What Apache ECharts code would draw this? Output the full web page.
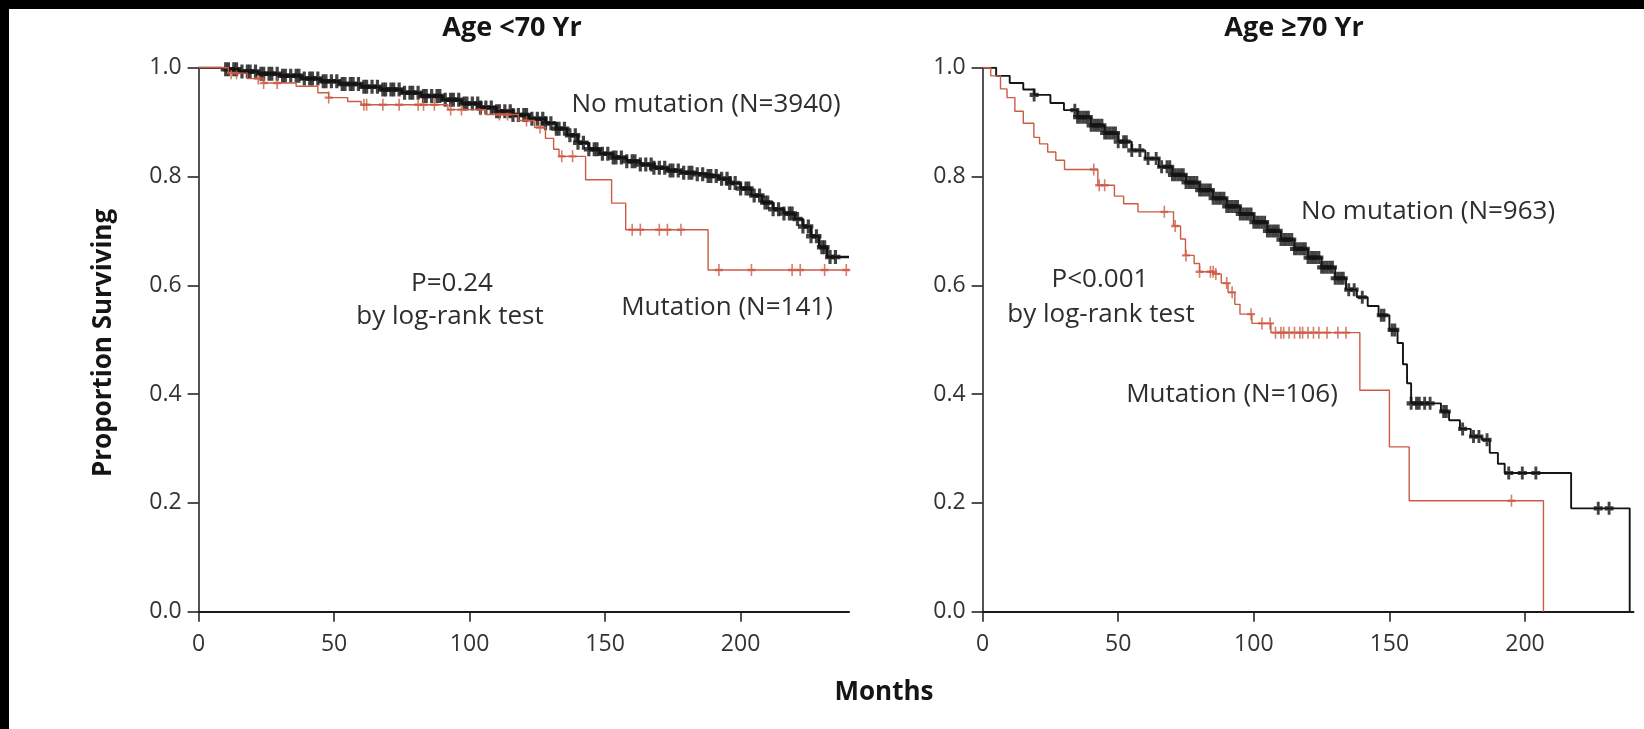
<!DOCTYPE html>
<html>
<head>
<meta charset="utf-8">
<title>Survival by mutation status</title>
<script src="https://cdn.jsdelivr.net/npm/echarts@6/dist/echarts.min.js"></script>
<style>
    html, body {
        margin: 0;
        padding: 0;
        background: #000;
    }

    #main {
        position: absolute;
        left: 9px;
        top: 9px;
        width: 1635px;
        height: 720px;
        background: #fff;
    }
</style>
</head>
<body>
<div id="main"></div>
<script>
    // ---- data (months, proportion surviving) ----
    var xTicks = [0, 50, 100, 150, 200];

    // Age <70 Yr, no mutation (N=3940)
    var youngNoMutTime = [0, 8, 15, 22, 30, 38, 45, 52, 60, 67, 75, 82, 90, 97, 104, 110, 116, 122, 128, 132, 136, 140, 144, 148, 153, 158, 163, 168, 173, 178, 183, 188, 192, 196, 200, 204, 208, 212, 216, 220, 223, 226, 229, 232, 240];
    var youngNoMutSurv = [1.0, 0.997, 0.993, 0.989, 0.985, 0.980, 0.975, 0.970, 0.965, 0.960, 0.954, 0.948, 0.941, 0.934, 0.927, 0.920, 0.913, 0.906, 0.898, 0.888, 0.876, 0.862, 0.850, 0.842, 0.835, 0.828, 0.822, 0.816, 0.811, 0.807, 0.804, 0.801, 0.796, 0.788, 0.778, 0.765, 0.752, 0.740, 0.732, 0.722, 0.708, 0.690, 0.670, 0.652, 0.652];
    var youngNoMutCensor = [10, 11, 13, 14, 16, 18, 19, 21, 23, 24, 26, 27, 29, 31, 32, 34, 36, 37, 39, 41, 42, 44, 46, 47, 49, 51, 53, 54, 56, 57, 59, 61, 62, 64, 66, 68, 69, 71, 72, 74, 76, 78, 79, 81, 83, 84, 86, 88, 89, 91, 93, 94, 96, 98, 99, 101, 103, 104, 106, 108, 110, 111, 113, 115, 116, 118, 120, 121, 123, 125, 127, 128, 130, 132, 133, 135, 137, 139, 140, 142, 144, 146, 147, 149, 151, 153, 154, 156, 158, 160, 161, 163, 165, 167, 168, 170, 172, 174, 175, 177, 179, 181, 182, 184, 186, 188, 189, 191, 193, 195, 196, 198, 200, 202, 203, 205, 207, 209, 210, 212, 214, 216, 218, 219, 221, 223, 225, 226, 228, 230, 231, 233, 235];

    // Age <70 Yr, mutation (N=141)
    var youngMutTime = [0, 11, 18, 24, 36, 44, 48, 55, 60, 92, 106, 118, 124, 128, 131, 133, 142.8, 152.4, 157.6, 188, 240];
    var youngMutSurv = [1.0, 0.990, 0.980, 0.972, 0.966, 0.954, 0.945, 0.938, 0.932, 0.923, 0.914, 0.903, 0.890, 0.870, 0.850, 0.837, 0.794, 0.751, 0.702, 0.628, 0.628];
    var youngMutCensor = [12, 14, 22, 24, 29, 48, 61, 62, 68, 74, 81, 83, 87, 93, 97, 104, 111, 114, 121, 126, 134, 138, 160, 163, 170, 173, 178, 192, 204, 219, 222, 231, 239];

    // Age >=70 Yr, no mutation (N=963)
    var oldNoMutTime = [0, 5, 10, 15, 19, 25, 30, 35, 40, 45, 50, 55, 60, 65, 70, 75, 80, 85, 90, 95, 100, 105, 110, 115, 120, 125, 130, 134, 138, 142, 146, 150, 153, 155, 156.5, 158, 169, 172, 176, 180, 184, 187, 190, 192.5, 217, 238.6];
    var oldNoMutSurv = [1.0, 0.985, 0.972, 0.960, 0.950, 0.935, 0.922, 0.909, 0.894, 0.880, 0.864, 0.848, 0.833, 0.818, 0.803, 0.789, 0.775, 0.760, 0.745, 0.731, 0.716, 0.700, 0.684, 0.667, 0.651, 0.633, 0.613, 0.592, 0.578, 0.562, 0.545, 0.518, 0.494, 0.455, 0.420, 0.383, 0.368, 0.352, 0.336, 0.322, 0.316, 0.292, 0.272, 0.255, 0.190, 0.0];
    var oldNoMutCensor = [19, 34, 35, 36, 37, 38, 39, 40, 41, 42, 43, 44, 45, 46, 47, 48, 49, 50, 52, 53, 55, 58, 61, 64, 66, 68, 69, 70, 71, 72, 73, 74, 75, 76, 77, 78, 79, 80, 81, 82, 83, 84, 85, 86, 87, 88, 89, 90, 91, 92, 93, 94, 95, 96, 97, 98, 99, 100, 101, 102, 103, 104, 105, 106, 107, 108, 109, 110, 111, 112, 113, 114, 115, 116, 117, 118, 119, 120, 121, 122, 123, 124, 125, 126, 127, 128, 129, 130, 131, 132, 133, 135, 137, 140, 147, 148, 151, 152, 158, 160, 161, 163, 165, 170, 171, 177, 181, 183, 186, 194, 199, 204, 227, 231];

    // Age >=70 Yr, mutation (N=106)
    var oldMutTime = [0, 3, 6.6, 9, 11.9, 15, 18.9, 21, 24, 27, 30.2, 42.5, 48.6, 52, 57.3, 70.4, 73, 74.8, 78, 80, 85.3, 88, 90.5, 93, 94.9, 99.3, 106.3, 139.1, 150, 157.3, 206.8];
    var oldMutSurv = [1.0, 0.985, 0.961, 0.945, 0.920, 0.898, 0.872, 0.860, 0.845, 0.830, 0.813, 0.784, 0.764, 0.750, 0.735, 0.709, 0.685, 0.655, 0.640, 0.625, 0.621, 0.604, 0.587, 0.565, 0.547, 0.530, 0.513, 0.407, 0.303, 0.204, 0.0];
    var oldMutCensor = [41, 43, 45, 67, 71, 75, 80, 84, 85, 86, 90, 92, 99, 103, 106, 108, 110, 111, 113, 115, 117, 118, 120, 122, 124, 127, 131, 134, 195];

    var lineBlack = '#141414';
    var lineRed = '#cc5b45';
    var fontFamily = '"Open Sans", "Noto Sans", sans-serif';
    // 删失标记: 十字 (黑色的粗一些)
    var plusBold = 'path://M3.4,0H6.6V3.4H10V6.6H6.6V10H3.4V6.6H0V3.4H3.4Z';
    var plusThin = 'path://M4,0H6V4H10V6H6V10H4V6H0V4H4Z';

    // 把时间和生存率拼成折线数据
    function pairs(times, surv) {
        return times.map(function (t, i) { return [t, surv[i]]; });
    }

    // 删失点落在阶梯曲线上
    function censorPoints(times, surv, censor) {
        return censor.map(function (c) {
            var s = surv[0];
            for (var i = 0; i < times.length; i++) {
                if (times[i] <= c) s = surv[i];
            }
            return [c, s];
        });
    }

    function stepSeries(idx, times, surv, color, width) {
        return {
            type: 'line',
            xAxisIndex: idx,
            yAxisIndex: idx,
            step: 'end',
            showSymbol: false,
            silent: true,
            lineStyle: { color: color, width: width },
            data: pairs(times, surv)
        };
    }

    function censorSeries(idx, times, surv, censor, color, symbol, size) {
        return {
            type: 'scatter',
            xAxisIndex: idx,
            yAxisIndex: idx,
            symbol: symbol,
            symbolSize: size,
            silent: true,
            itemStyle: { color: color },
            data: censorPoints(times, surv, censor)
        };
    }

    function xAxisOpt(idx) {
        return {
            type: 'value',
            gridIndex: idx,
            min: 0,
            max: 240,
            splitLine: { show: false },
            axisLine: { onZero: false, lineStyle: { color: '#1a1a1a', width: 2 } },
            axisTick: { length: 10, customValues: xTicks, lineStyle: { color: '#1a1a1a', width: 1.5 } },
            axisLabel: {
                customValues: xTicks,
                margin: 21,
                fontSize: 23,
                color: '#333',
                fontFamily: fontFamily
            }
        };
    }

    function yAxisOpt(idx) {
        return {
            type: 'value',
            gridIndex: idx,
            min: 0,
            max: 1,
            interval: 0.2,
            splitLine: { show: false },
            axisLine: { show: true, onZero: false, lineStyle: { color: '#1a1a1a', width: 1.5 } },
            axisTick: { show: true, length: 11, lineStyle: { color: '#1a1a1a', width: 1.5 } },
            axisLabel: {
                margin: 17,
                fontSize: 23,
                color: '#333',
                fontFamily: fontFamily,
                formatter: function (v) { return v.toFixed(1); }
            }
        };
    }

    function label(text, x, y, size, bold, rotate) {
        return {
            type: 'text',
            x: x,
            y: y,
            rotation: rotate || 0,
            style: {
                text: text,
                fill: bold ? '#151515' : '#2e2e2e',
                font: (bold ? 'bold ' : '') + size + 'px ' + fontFamily,
                textAlign: 'center',
                textVerticalAlign: 'middle'
            }
        };
    }

    var myChart = echarts.init(document.getElementById('main'));

    var option = {
        animation: false,
        grid: [
            { left: 189.6, top: 58.7, width: 650.4, height: 544 },
            { left: 973.6, top: 58.7, width: 650.9, height: 544 }
        ],
        xAxis: [xAxisOpt(0), xAxisOpt(1)],
        yAxis: [yAxisOpt(0), yAxisOpt(1)],
        series: [
            stepSeries(0, youngNoMutTime, youngNoMutSurv, lineBlack, 2.6),
            censorSeries(0, youngNoMutTime, youngNoMutSurv, youngNoMutCensor, lineBlack, plusBold, [10, 14]),
            stepSeries(0, youngMutTime, youngMutSurv, lineRed, 1.4),
            censorSeries(0, youngMutTime, youngMutSurv, youngMutCensor, lineRed, plusThin, [8, 12]),
            stepSeries(1, oldNoMutTime, oldNoMutSurv, lineBlack, 1.9),
            censorSeries(1, oldNoMutTime, oldNoMutSurv, oldNoMutCensor, lineBlack, plusBold, [9, 13]),
            stepSeries(1, oldMutTime, oldMutSurv, lineRed, 1.4),
            censorSeries(1, oldMutTime, oldMutSurv, oldMutCensor, lineRed, plusThin, [8, 12])
        ],
        graphic: [
            label('Age <70 Yr', 503, 19, 27, true),
            label('Age \u226570 Yr', 1285, 19, 27, true),
            label('Proportion Surviving', 95, 334, 26, true, Math.PI / 2),
            label('Months', 875, 684, 26, true),
            label('No mutation (N=3940)', 697, 96, 26, false),
            label('P=0.24', 443, 275, 26, false),
            label('by log-rank test', 441, 308, 26, false),
            label('Mutation (N=141)', 718, 299, 26, false),
            label('No mutation (N=963)', 1419, 203, 26, false),
            label('P<0.001', 1091, 271, 26, false),
            label('by log-rank test', 1092, 306, 26, false),
            label('Mutation (N=106)', 1223, 386, 26, false)
        ]
    };

    myChart.setOption(option);
</script>
</body>
</html>
